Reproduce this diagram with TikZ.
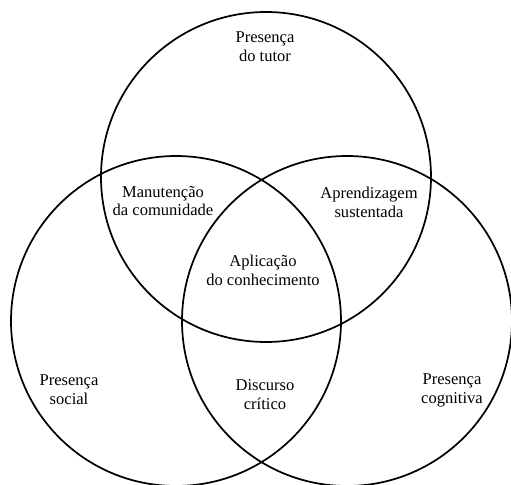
\documentclass[tikz,border=0pt]{standalone}
\usepackage{fontspec}
\setmainfont{Liberation Serif}
\newlength\vennradius
\setlength\vennradius{123.75pt}
\tikzset{
  venncircle/.style={circle, draw=black, line width=1.3pt,
    minimum size=2\vennradius, inner sep=0pt},
  venntext/.style={align=center, inner sep=1pt,
    font=\fontsize{12.4}{14.2}\selectfont},
}
\begin{document}
\begin{tikzpicture}[x=0.75pt, y=-0.75pt]
\useasboundingbox (0,0) rectangle (511,485);
% circles
\node[venncircle] (tutor) at (266,177) {};
\node[venncircle] (social) at (176,321) {};
\node[venncircle] (cognitiva) at (347,321) {};
% labels
\node[venntext] (ptutor) at (265,47) {Presença\\do tutor};
\node[venntext] (manut) at (163,201) {Manutenção\\da comunidade};
\node[venntext] (aprend) at (369,202) {Aprendizagem\\sustentada};
\node[venntext] (aplic) at (263,270) {Aplicação\\do conhecimento};
\node[venntext] (psocial) at (69,390) {Presença\\social};
\node[venntext] (discurso) at (265,395) {Discurso\\crítico};
\node[venntext] (pcogn) at (452,390) {Presença\\cognitiva};
\end{tikzpicture}
\end{document}
